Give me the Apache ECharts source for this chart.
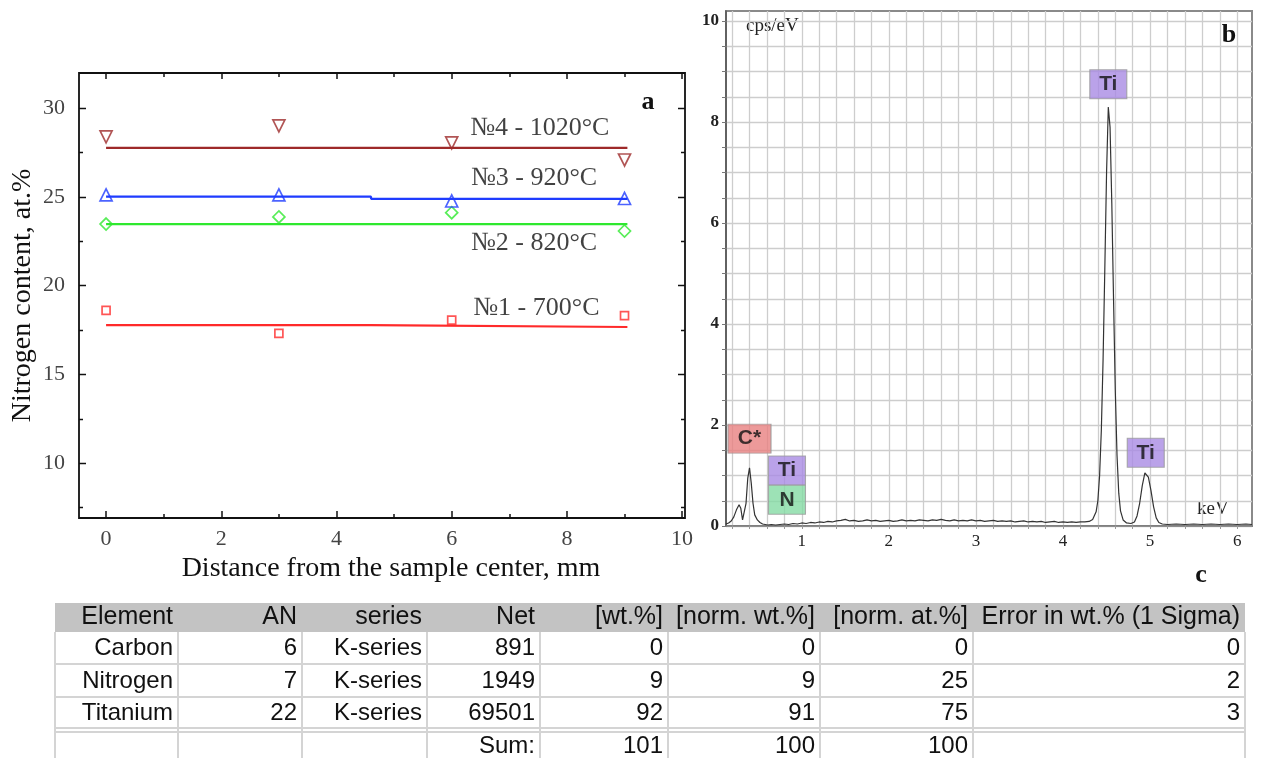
<!DOCTYPE html>
<html><head><meta charset="utf-8">
<script src="https://cdn.jsdelivr.net/npm/echarts@6/dist/echarts.min.js"></script>
<style>html,body{margin:0;padding:0;background:#fff}#c{width:1262px;height:758px}</style>
</head><body><div id="c"></div>
<script>
// ---------- Panel a data ----------
const distances = [0, 3, 6, 9];
const sample1 = [18.6, 17.3, 18.05, 18.3];
const sample2 = [23.46, 23.86, 24.1, 23.07];
const sample3 = [25.1, 25.1, 24.76, 24.9];
const sample4 = [28.37, 28.99, 28.03, 27.07];
const fitX = [0, 4.6, 4.6, 9.05];
const fit1 = [17.77, 17.77, 17.66, 17.66];
const fit2 = [23.46, 23.46, 23.46, 23.46];
const fit3 = [25.0, 25.0, 24.88, 24.88];
const fit4 = [27.75, 27.75, 27.75, 27.75];
const sampleNames = ['№1 - 700°C', '№2 - 820°C', '№3 - 920°C', '№4 - 1020°C'];
const sampleNameX = [7.47, 7.43, 7.43, 7.53];
const sampleNameY = [18.73, 22.39, 26.06, 28.87];
const aXMajor = [0, 2, 4, 6, 8, 10];
const aXMinor = [1, 3, 5, 7, 9];
const aYMajor = [10, 15, 20, 25, 30];
const aYMinor = [7.5, 12.5, 17.5, 22.5, 27.5];

// ---------- Panel b data ----------
const specE = [0.13,0.16,0.19,0.22,0.25,0.28,0.30,0.32,0.34,0.36,0.38,0.40,0.42,0.44,0.46,0.49,0.52,0.55,0.58,0.61,
  0.65,0.70,0.75,0.80,0.85,0.90,0.95,1.00,1.05,1.10,1.15,1.20,1.25,1.30,1.35,1.40,1.45,1.50,1.55,1.60,
  1.65,1.70,1.75,1.80,1.85,1.90,1.95,2.00,2.05,2.10,2.15,2.20,2.25,2.30,2.35,2.40,2.45,2.50,2.55,2.60,
  2.65,2.70,2.75,2.80,2.85,2.90,2.95,3.00,3.05,3.10,3.15,3.20,3.25,3.30,3.35,3.40,3.45,3.50,3.55,3.60,
  3.65,3.70,3.75,3.80,3.85,3.90,3.95,4.00,4.05,4.10,4.15,4.20,4.25,4.30,4.34,4.38,4.40,4.42,4.44,4.46,
  4.48,4.50,4.52,4.54,4.56,4.58,4.60,4.62,4.64,4.66,4.69,4.73,4.78,4.82,4.85,4.88,4.91,4.94,4.96,4.98,
  5.01,5.04,5.07,5.10,5.14,5.20,5.30,5.40,5.50,5.60,5.70,5.80,5.90,6.00,6.10,6.17];
const specC = [0.04,0.06,0.10,0.18,0.32,0.42,0.35,0.12,0.14,0.45,0.95,1.15,0.85,0.45,0.22,0.12,0.07,0.04,0.03,0.02,
  0.03,0.02,0.03,0.04,0.03,0.05,0.04,0.06,0.05,0.07,0.06,0.08,0.07,0.09,0.08,0.10,0.11,0.13,0.10,0.11,
  0.09,0.10,0.12,0.10,0.11,0.09,0.10,0.11,0.09,0.10,0.12,0.10,0.11,0.10,0.12,0.11,0.10,0.12,0.11,0.13,
  0.11,0.10,0.12,0.10,0.11,0.10,0.12,0.10,0.11,0.09,0.10,0.11,0.09,0.10,0.09,0.10,0.08,0.09,0.10,0.08,
  0.09,0.08,0.09,0.07,0.08,0.09,0.07,0.08,0.07,0.08,0.07,0.08,0.08,0.09,0.13,0.28,0.50,1.00,1.90,3.30,
  5.10,7.00,8.30,7.90,6.40,4.50,2.70,1.40,0.65,0.30,0.12,0.06,0.05,0.08,0.20,0.45,0.80,1.05,1.07,0.97,
  0.70,0.38,0.16,0.07,0.04,0.03,0.04,0.03,0.04,0.03,0.04,0.03,0.04,0.03,0.04,0.03];
const peakNames = ['C*', 'Ti', 'N', 'Ti', 'Ti'];
const peakLabelE = [0.40, 0.83, 0.83, 4.52, 4.95];
const peakLabelC = [1.73, 1.10, 0.52, 8.75, 1.45];
const peakColors = ['#e98181', '#a98be4', '#85dba4', '#a98be4', '#a98be4'];
const bXTicks = [0.2,0.4,0.6,0.8,1.0,1.2,1.4,1.6,1.8,2.0,2.2,2.4,2.6,2.8,3.0,3.2,3.4,3.6,3.8,4.0,4.2,4.4,4.6,4.8,5.0,5.2,5.4,5.6,5.8,6.0];
const bXLabels = [1, 2, 3, 4, 5, 6];
const bYTicks = [0,0.5,1,1.5,2,2.5,3,3.5,4,4.5,5,5.5,6,6.5,7,7.5,8,8.5,9,9.5,10];
const bYLabels = [0, 2, 4, 6, 8, 10];

// ---------- Table c data ----------
const tableHeader = ['Element', 'AN', 'series', 'Net', '[wt.%]', '[norm. wt.%]', '[norm. at.%]', 'Error in wt.% (1 Sigma)'];
const rowCarbon = ['Carbon', '6', 'K-series', '891', '0', '0', '0', '0'];
const rowNitrogen = ['Nitrogen', '7', 'K-series', '1949', '9', '9', '25', '2'];
const rowTitanium = ['Titanium', '22', 'K-series', '69501', '92', '91', '75', '3'];
const rowSum = ['', '', '', 'Sum:', '101', '100', '100', ''];

// ---------- layout ----------
const colEdges = [55, 178, 302, 427, 540, 668, 820, 973, 1245];
const rowCenters = [617, 648, 681, 713, 746];
const gridA = {left: 79, top: 73, width: 606, height: 445};
const serif = '"Liberation Serif", "Times New Roman", serif';
const sans = '"Liberation Sans", Arial, sans-serif';

const chart = echarts.init(document.getElementById('c'), null, {renderer: 'canvas'});

const aTickColor = '#111';
function aTickAxis(pos, len, vals, range) {
  return {gridIndex: 0, type: 'value', position: pos, min: range[0], max: range[1],
    axisLine: {show: false, onZero: false},
    axisLabel: {show: false}, splitLine: {show: false},
    axisTick: {show: true, inside: true, length: len, lineStyle: {color: aTickColor, width: 1.5}, customValues: vals}};
}
const aXRange = [-0.47, 10.05];
const aYRange = [6.9, 31.97];
const xAxes = [
  {gridIndex: 0, type: 'value', position: 'bottom', min: aXRange[0], max: aXRange[1],
   axisLine: {show: false, onZero: false}, splitLine: {show: false},
   axisTick: {show: true, inside: true, length: 7, lineStyle: {color: aTickColor, width: 1.5}, customValues: aXMajor},
   axisLabel: {customValues: aXMajor, fontFamily: serif, fontSize: 22, color: '#444', margin: 10},
   name: 'Distance from the sample center, mm', nameLocation: 'middle', nameGap: 34,
   nameTextStyle: {fontFamily: serif, fontSize: 28, color: '#111', padding: [0, 0, 0, 18]}},
  aTickAxis('bottom', 4, aXMinor, aXRange),
  aTickAxis('top', 6, aXMajor, aXRange),
  aTickAxis('top', 4, aXMinor, aXRange),
  {gridIndex: 1, type: 'value', position: 'bottom', min: 0.13, max: 6.17,
   axisLine: {show: true, onZero: false, lineStyle: {color: '#777', width: 1.5}},
   axisTick: {show: true, length: 3, lineStyle: {color: '#999'}, customValues: bXTicks},
   axisLabel: {customValues: bXLabels, fontFamily: serif, fontSize: 17, color: '#222', margin: 7},
   splitLine: {show: true, lineStyle: {color: '#cdcdcd', width: 1.3}}}
];
const yAxes = [
  {gridIndex: 0, type: 'value', position: 'left', min: aYRange[0], max: aYRange[1],
   axisLine: {show: false, onZero: false}, splitLine: {show: false},
   axisTick: {show: false, customValues: aYMajor},
   axisLabel: {customValues: aYMajor, fontFamily: serif, fontSize: 22, color: '#444', margin: 14},
   name: 'Nitrogen content, at.%', nameLocation: 'middle', nameGap: 42,
   nameTextStyle: {fontFamily: serif, fontSize: 28, color: '#111'}},
  {gridIndex: 1, type: 'value', position: 'left', min: 0, max: 10.2,
   axisLine: {show: true, onZero: false, lineStyle: {color: '#555', width: 1.5}},
   axisTick: {show: true, length: 4, lineStyle: {color: '#777'}, customValues: bYTicks},
   axisLabel: {customValues: bYLabels, fontFamily: serif, fontSize: 17, fontWeight: 'bold', color: '#222', margin: 7},
   splitLine: {show: true, lineStyle: {color: '#cdcdcd', width: 1.3}}}
];

const sampleSets = [
  {vals: sample1, fit: fit1, color: '#ff2a2a', symbol: 'rect', size: 8, rot: 0},
  {vals: sample2, fit: fit2, color: '#2ee82e', symbol: 'diamond', size: 12, rot: 0},
  {vals: sample3, fit: fit3, color: '#1f3cff', symbol: 'triangle', size: 12, rot: 0},
  {vals: sample4, fit: fit4, color: '#9e2a2a', symbol: 'triangle', size: 12, rot: 180}
];
const series = [];
sampleSets.forEach((s, i) => {
  series.push({type: 'line', xAxisIndex: 0, yAxisIndex: 0, name: sampleNames[i] + ' fit',
    data: fitX.map((x, k) => [x, s.fit[k]]), showSymbol: false, symbol: 'none',
    lineStyle: {color: s.color, width: 2.2}, silent: true, z: 2});
});
sampleSets.forEach((s, i) => {
  series.push({type: 'scatter', xAxisIndex: 0, yAxisIndex: 0, name: sampleNames[i],
    data: distances.map((d, k) => [d, s.vals[k]]), symbol: s.symbol, symbolSize: s.size,
    symbolRotate: s.rot,
    itemStyle: {color: 'rgba(255,255,255,0)', borderColor: s.color, borderWidth: 1.7}, z: 3});
});
series.push({type: 'scatter', xAxisIndex: 0, yAxisIndex: 0, name: 'labels', silent: true,
  data: sampleNames.map((n, i) => ({value: [sampleNameX[i], sampleNameY[i]], name: n})),
  symbolSize: 0,
  label: {show: true, position: 'inside', formatter: p => p.name, fontFamily: serif, fontSize: 26, color: '#111'}, z: 4});
series.push({type: 'line', xAxisIndex: 4, yAxisIndex: 1, name: 'spectrum',
  data: specE.map((e, k) => [e, specC[k]]), showSymbol: false, symbol: 'none',
  lineStyle: {color: '#333', width: 1.2}, silent: true, z: 3});
series.push({type: 'scatter', xAxisIndex: 4, yAxisIndex: 1, name: 'peaks', silent: true,
  data: peakNames.map((n, i) => ({value: [peakLabelE[i], peakLabelC[i]], name: n,
    symbolSize: n === 'C*' ? [43, 29] : [37, 29],
    itemStyle: {color: peakColors[i], borderColor: '#9a9a9a', borderWidth: 1}})),
  symbol: 'rect',
  label: {show: true, position: 'inside', formatter: p => p.name, fontFamily: sans, fontWeight: 'bold', fontSize: 21, color: '#111'}, z: 5});

const graphics = [];
graphics.push({type: 'rect', shape: {x: colEdges[0], y: 603, width: colEdges[8] - colEdges[0], height: 29},
  style: {fill: '#c3c3c3'}, silent: true});
[664, 697, 728, 732].forEach(y => graphics.push({type: 'line', shape: {x1: colEdges[0], y1: y, x2: colEdges[8], y2: y},
  style: {stroke: '#d4d4d4', lineWidth: 2}, silent: true}));
colEdges.forEach(x => graphics.push({type: 'line', shape: {x1: x, y1: 632, x2: x, y2: 758},
  style: {stroke: '#d4d4d4', lineWidth: 2}, silent: true}));
const allRows = [tableHeader, rowCarbon, rowNitrogen, rowTitanium, rowSum];
allRows.forEach((row, r) => {
  row.forEach((txt, c) => {
    if (!txt) return;
    graphics.push({type: 'text', x: colEdges[c + 1] - 5, y: rowCenters[r], silent: true,
      style: {text: txt, fill: '#111', font: (r === 0 ? '25px ' : '24px ') + sans, textAlign: 'right', textVerticalAlign: 'middle'}});
  });
});
graphics.push({type: 'text', x: 648, y: 102, style: {text: 'a', fill: '#111', font: 'bold 26px ' + serif, textAlign: 'center', textVerticalAlign: 'middle'}});
graphics.push({type: 'text', x: 1229, y: 35, style: {text: 'b', fill: '#111', font: 'bold 26px ' + serif, textAlign: 'center', textVerticalAlign: 'middle'}});
graphics.push({type: 'text', x: 1201, y: 575, style: {text: 'c', fill: '#111', font: 'bold 26px ' + serif, textAlign: 'center', textVerticalAlign: 'middle'}});
graphics.push({type: 'text', x: 746, y: 26, style: {text: 'cps/eV', fill: '#222', font: '19px ' + serif, textAlign: 'left', textVerticalAlign: 'middle'}});
graphics.push({type: 'text', x: 1197, y: 509, style: {text: 'keV', fill: '#222', font: '19px ' + serif, textAlign: 'left', textVerticalAlign: 'middle'}});

chart.setOption({
  animation: false,
  backgroundColor: '#fff',
  grid: [
    {left: gridA.left, top: gridA.top, width: gridA.width, height: gridA.height, show: true, borderColor: '#111', borderWidth: 1.8, backgroundColor: 'transparent'},
    {left: 726, top: 11, width: 526, height: 515, show: true, borderColor: '#8a8a8a', borderWidth: 2, backgroundColor: 'transparent'}
  ],
  xAxis: xAxes,
  yAxis: yAxes,
  series: series,
  graphic: graphics
});

// y-axis ticks of panel a (both sides, inward), placed through the axis scale
const yTickEls = [];
const leftX = gridA.left, rightX = gridA.left + gridA.width;
[[aYMajor, 7], [aYMinor, 4]].forEach(([vals, len]) => {
  vals.forEach(v => {
    const py = Math.round(chart.convertToPixel({yAxisIndex: 0}, v)) + 0.5;
    yTickEls.push({type: 'line', silent: true, shape: {x1: leftX, y1: py, x2: leftX + len, y2: py},
      style: {stroke: aTickColor, lineWidth: 1.5}, z: 10});
    yTickEls.push({type: 'line', silent: true, shape: {x1: rightX - len, y1: py, x2: rightX, y2: py},
      style: {stroke: aTickColor, lineWidth: 1.5}, z: 10});
  });
});
chart.setOption({graphic: graphics.concat(yTickEls)});
</script></body></html>
